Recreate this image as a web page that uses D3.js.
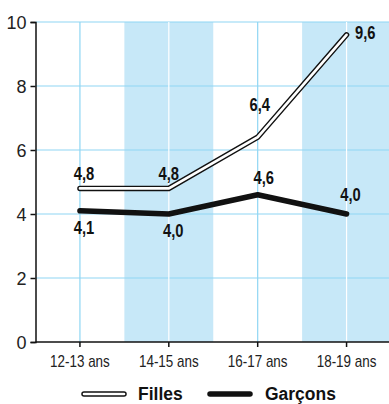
<!DOCTYPE html>
<html>
<head>
<meta charset="utf-8">
<script src="https://cdn.jsdelivr.net/npm/d3@7"></script>
<style>
  html, body { margin: 0; padding: 0; background: #fff; }
  svg { display: block; }
  .num { font-family: "Liberation Sans", Arial, sans-serif; font-weight: bold; font-size: 18px; fill: #111; }
  .tick text { font-family: "Liberation Sans", Arial, sans-serif; fill: #222; }
  .legend text { font-family: "Liberation Sans", Arial, sans-serif; font-weight: bold; font-size: 19px; fill: #111; }
</style>
</head>
<body>
<svg id="chart" width="389" height="404"></svg>
<script>
// Age groups and average values per group
const categories = ["12-13 ans", "14-15 ans", "16-17 ans", "18-19 ans"];
const filles = [4.8, 4.8, 6.4, 9.6];
const garcons = [4.1, 4.0, 4.6, 4.0];
const yTicks = [0, 2, 4, 6, 8, 10];
const seriesNames = ["Filles", "Garçons"];

const svg = d3.select("#chart");
const margin = { left: 35.5, right: -2, top: 22, bottom: 62 };
const W = 389, H = 404;

const x = d3.scaleBand().domain(categories).range([margin.left, W - margin.right]).padding(0);
const y = d3.scaleLinear().domain([0, 10]).range([H - margin.bottom, margin.top]);
const cx = c => x(c) + x.bandwidth() / 2;

const gridBlue = "#8fd6f3";
const bandBlue = "#c7e8f8";

// Alternating shaded columns
svg.append("g").selectAll("rect")
  .data(categories.filter((c, i) => i % 2 === 1))
  .join("rect")
  .attr("x", d => x(d))
  .attr("y", y(10))
  .attr("width", x.bandwidth())
  .attr("height", y(0) - y(10))
  .attr("fill", bandBlue);

// Horizontal grid lines
svg.append("g").selectAll("line")
  .data(yTicks.filter(t => t > 0))
  .join("line")
  .attr("x1", margin.left).attr("x2", W)
  .attr("y1", d => y(d)).attr("y2", d => y(d))
  .attr("stroke", gridBlue).attr("stroke-width", 1.2);

// Vertical grid lines through each category (white on shaded columns)
svg.append("g").selectAll("line")
  .data(categories)
  .join("line")
  .attr("x1", d => cx(d)).attr("x2", d => cx(d))
  .attr("y1", y(10)).attr("y2", y(0))
  .attr("stroke", (d, i) => i % 2 === 1 ? "#ffffff" : gridBlue)
  .attr("stroke-width", 1.2);

// Axes
const yAxis = d3.axisLeft(y).tickValues(yTicks).tickSize(5).tickPadding(4).tickFormat(d3.format("d"));
const gy = svg.append("g").attr("transform", `translate(${margin.left},0)`).call(yAxis);
gy.select(".domain").attr("stroke", "#111").attr("stroke-width", 1.5);
gy.selectAll(".tick line").attr("stroke", "#111").attr("stroke-width", 1.5);
gy.selectAll(".tick text").style("font-size", "18px").attr("dy", "0.36em");

const xAxis = d3.axisBottom(x).tickSize(5).tickPadding(9);
const gx = svg.append("g").attr("transform", `translate(0,${y(0)})`).call(xAxis);
gx.select(".domain").attr("d", `M${margin.left},0H${W}`).attr("stroke", "#111").attr("stroke-width", 1.5);
gx.selectAll(".tick line").attr("stroke", "#111").attr("stroke-width", 1.5);
gx.selectAll(".tick text").style("font-size", "16px")
  .attr("transform", "scale(0.84,1)");

const line = d3.line().x((d, i) => cx(categories[i])).y(d => y(d));

// Girls: hollow double line
svg.append("path").datum(filles).attr("d", line)
  .attr("fill", "none").attr("stroke", "#111").attr("stroke-width", 5.5)
  .attr("stroke-linecap", "round").attr("stroke-linejoin", "miter");
svg.append("path").datum(filles).attr("d", line)
  .attr("fill", "none").attr("stroke", "#fff").attr("stroke-width", 2.6)
  .attr("stroke-linecap", "round").attr("stroke-linejoin", "miter");

// Boys: solid thick line
svg.append("path").datum(garcons).attr("d", line)
  .attr("fill", "none").attr("stroke", "#111").attr("stroke-width", 5.5)
  .attr("stroke-linecap", "round").attr("stroke-linejoin", "round");

const fmt = v => d3.format(".1f")(v).replace(".", ",");

// Condensed bold value labels placed relative to each point
function valueLabels(values, offsets) {
  svg.append("g").selectAll("text").data(values).join("text")
    .attr("class", "num")
    .attr("transform", (d, i) =>
      `translate(${cx(categories[i]) + offsets[i].dx},${y(d) + offsets[i].dy}) scale(0.82,1)`)
    .attr("text-anchor", (d, i) => offsets[i].anchor)
    .text(fmt);
}

valueLabels(filles, [
  { dx: 4, dy: -8.5, anchor: "middle" },
  { dx: 0, dy: -8.5, anchor: "middle" },
  { dx: 2, dy: -26, anchor: "middle" },
  { dx: 8.5, dy: 4.5, anchor: "start" }
]);

valueLabels(garcons, [
  { dx: 4, dy: 23, anchor: "middle" },
  { dx: 4.5, dy: 23, anchor: "middle" },
  { dx: 6, dy: -11, anchor: "middle" },
  { dx: 4, dy: -13, anchor: "middle" }
]);

// Legend
const lg = svg.append("g").attr("class", "legend");
const ly = 394;
lg.append("line").attr("x1", 84).attr("x2", 124).attr("y1", ly).attr("y2", ly)
  .attr("stroke", "#111").attr("stroke-width", 5.5).attr("stroke-linecap", "round");
lg.append("line").attr("x1", 84).attr("x2", 124).attr("y1", ly).attr("y2", ly)
  .attr("stroke", "#fff").attr("stroke-width", 2.6).attr("stroke-linecap", "round");
lg.append("text").attr("transform", `translate(138,${ly + 5.5}) scale(0.92,1)`).text(seriesNames[0]);
lg.append("line").attr("x1", 210).attr("x2", 250).attr("y1", ly).attr("y2", ly)
  .attr("stroke", "#111").attr("stroke-width", 5.5).attr("stroke-linecap", "round");
lg.append("text").attr("transform", `translate(265,${ly + 5.5}) scale(0.92,1)`).text(seriesNames[1]);
</script>
</body>
</html>
